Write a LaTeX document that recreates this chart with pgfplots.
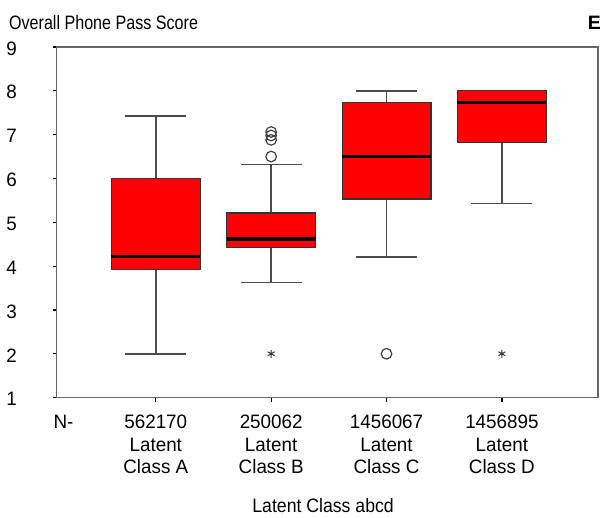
\documentclass[border=0pt]{standalone}
\usepackage{pgfplots}
\pgfplotsset{compat=1.18}
\usepgfplotslibrary{statistics}
\usepackage{fontspec}
\setmainfont{Liberation Sans}[FakeStretch=0.83]
\newfontfamily\tickfont{Liberation Sans}[FakeStretch=0.97]
\newfontfamily\labfont{Liberation Sans}[FakeStretch=0.91]
\newfontfamily\boldfont{Liberation Sans Bold}
\begin{document}
\fontsize{19.5}{22.5}\selectfont
\begin{tikzpicture}
\begin{axis}[
  scale only axis, width=542bp, height=351bp,
  xmin=0.14, xmax=4.833, ymin=1, ymax=9,
  ytick={1,...,9},
  xtick={1,2,3,4},
  xticklabels={{562170\\Latent\\Class A},{250062\\Latent\\Class B},{1456067\\Latent\\Class C},{1456895\\Latent\\Class D}},
  xticklabel style={align=center, yshift=-7bp},
  yticklabel style={xshift=-29bp, yshift=-1.5bp},
  tick pos=left,
  tick align=outside, major tick length=4bp,
  tick style={black, line width=1.2pt},
  axis line style={black!60, line width=1.6pt},
  /pgf/number format/assume math mode=true,
  ticklabel style={font=\fontsize{19.5}{22.5}\selectfont\tickfont},
  clip=false,
  boxplot/draw direction=y,
  boxplot/box extend=0.77,
  boxplot/whisker extend=0.53,
  boxplot/every median/.style={black, line width=3.2pt},
  boxplot/every whisker/.style={black!70, line width=1.6pt},
  boxplot/every box/.style={draw=black!80, line width=1.2pt, fill=red},
]
\addplot[boxplot prepared={draw position=1, lower whisker=2, lower quartile=3.93, median=4.21, upper quartile=6.0, upper whisker=7.43}, fill=red, draw=black] coordinates {};
\addplot[boxplot prepared={draw position=2, lower whisker=3.63, lower quartile=4.43, median=4.62, upper quartile=5.21, upper whisker=6.32}, fill=red, draw=black] coordinates {};
\addplot[boxplot prepared={draw position=3, lower whisker=4.21, lower quartile=5.53, median=6.5, upper quartile=7.73, upper whisker=8.0}, fill=red, draw=black] coordinates {};
\addplot[boxplot prepared={draw position=4, lower whisker=5.43, lower quartile=6.82, median=7.73, upper quartile=8.0, upper whisker=8.0}, fill=red, draw=black] coordinates {};
\addplot[only marks, mark=o, mark size=5.3bp, black!75, line width=1.2pt, mark options={fill=white}] coordinates {(2,6.5) (2,6.88) (2,6.98) (2,7.06) (3,2.0)};
\addplot[only marks, mark=asterisk, mark size=4bp, black!80, line width=1pt] coordinates {(2,2.0) (4,2.0)};
\end{axis}
\node[anchor=base west, inner sep=0] at (-47.7bp,368bp) {Overall Phone Pass Score};
\node[anchor=base east, inner sep=0, font=\fontsize{19.5}{22.5}\selectfont\boldfont] at (545bp,368bp) {E};
\node[anchor=base, inner sep=0, font=\fontsize{19.5}{22.5}\selectfont\tickfont] at (7bp,-31.3bp) {N-};
\node[anchor=base, inner sep=0, font=\fontsize{19.5}{22.5}\selectfont\labfont] at (266.8bp,-115bp) {Latent Class abcd};
\path (-56bp,-120bp) rectangle (548bp,398bp);
\end{tikzpicture}
\end{document}
